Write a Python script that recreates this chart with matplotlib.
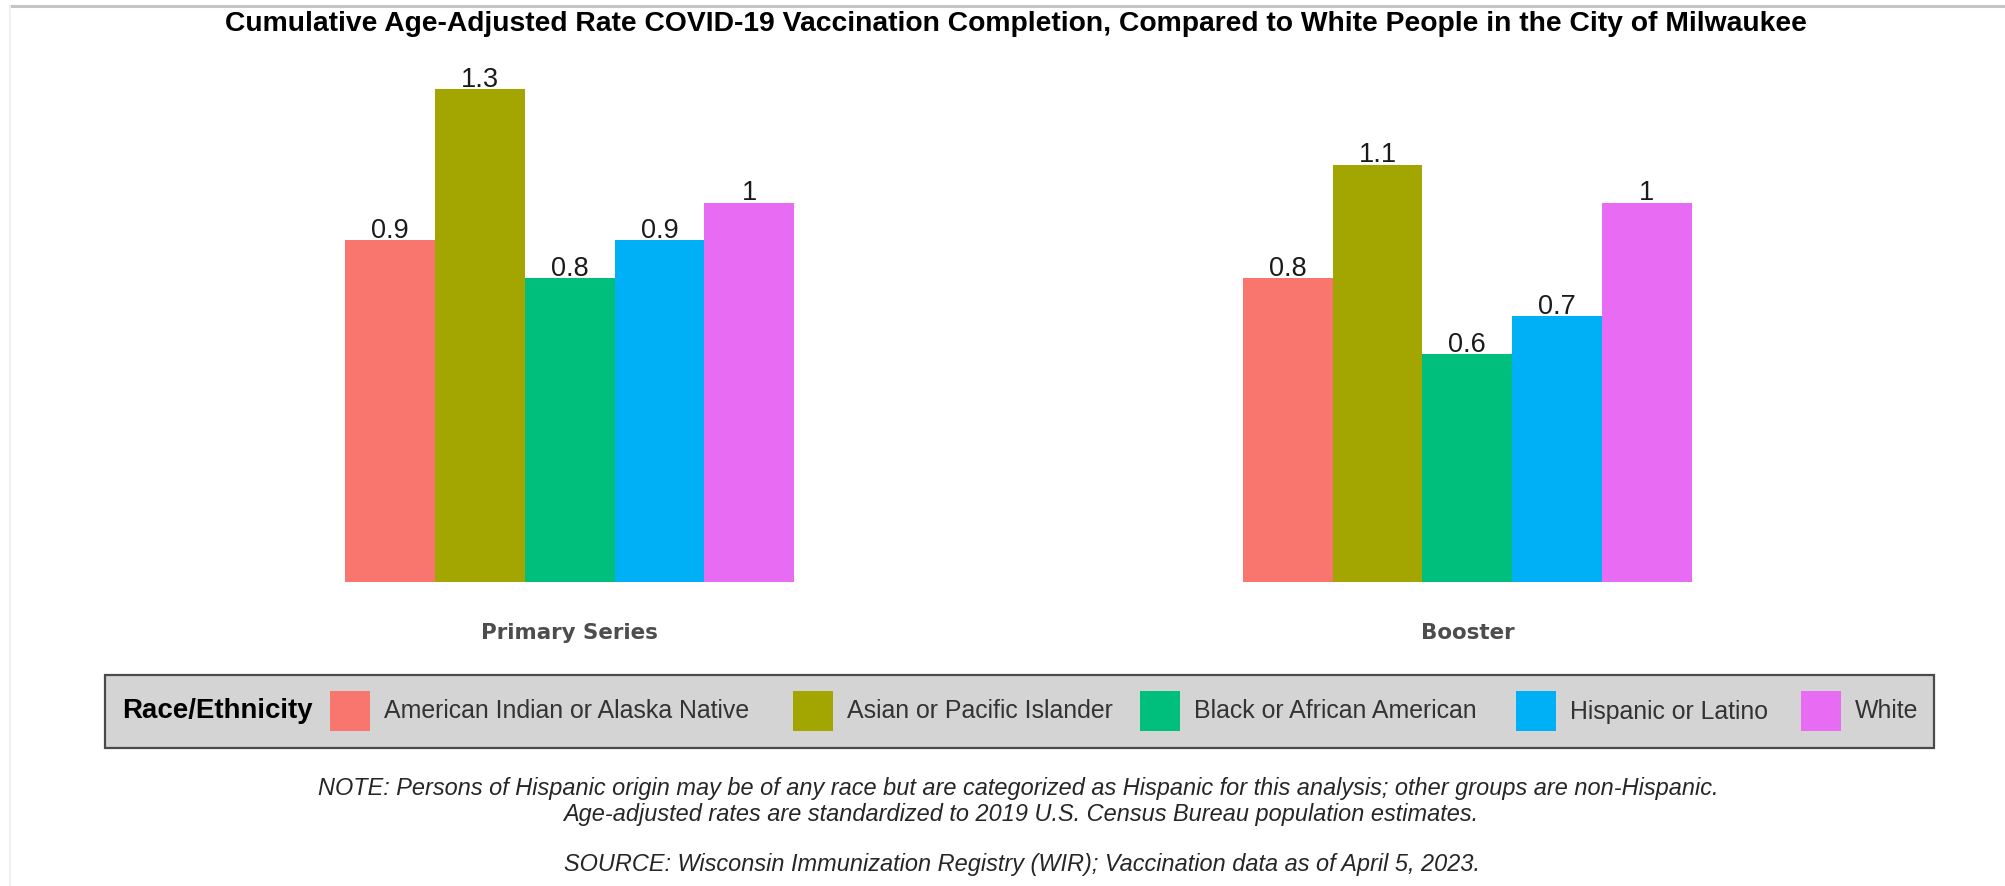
import matplotlib
matplotlib.use("Agg")
import matplotlib.pyplot as plt
from matplotlib.patches import Rectangle
from matplotlib.lines import Line2D

# data
groups = ["Primary Series", "Booster"]
races = ["American Indian or Alaska Native", "Asian or Pacific Islander",
         "Black or African American", "Hispanic or Latino", "White"]
primary = [0.9, 1.3, 0.8, 0.9, 1.0]
booster = [0.8, 1.1, 0.6, 0.7, 1.0]
colors = ["#F8766D", "#A3A500", "#00BF7D", "#00B0F6", "#E76BF3"]

title = ("Cumulative Age-Adjusted Rate COVID-19 Vaccination Completion, "
         "Compared to White People in the City of Milwaukee")
note_lines = ["NOTE: Persons of Hispanic origin may be of any race but are categorized as "
              "Hispanic for this analysis; other groups are non-Hispanic.",
              "Age-adjusted rates are standardized to 2019 U.S. Census Bureau population estimates.",
              "SOURCE: Wisconsin Immunization Registry (WIR); Vaccination data as of April 5, 2023."]

W, H = 2006, 886
fig = plt.figure(figsize=(W / 100, H / 100), dpi=100)
fig.patch.set_facecolor("white")

# panel placement in pixels
ax = fig.add_axes([31 / W, 304 / H, 1975 / W, 522 / H])
ax.set_xlim(-0.6, 1.6)
ax.set_ylim(0, 522 / 379.5)
ax.axis("off")

bw = 0.1
values = [primary, booster]
for gi in range(len(groups)):
    for ri in range(len(races)):
        x = gi + (ri - 2) * bw
        v = values[gi][ri]
        ax.bar(x, v, width=bw, color=colors[ri], linewidth=0)
        ax.annotate("{:g}".format(v), (x, v), xytext=(0, 1.5), textcoords="offset points",
                    ha="center", va="baseline", fontsize=19.5, color="#1a1a1a",
                    family="Liberation Sans")
    ax.text(gi, -51 / 379.5, groups[gi], ha="center", va="center", fontsize=15.4,
            fontweight="bold", color="#4d4d4d", family="DejaVu Sans")

# title
fig.text(1016 / W, 1 - 24 / H, title, ha="center", va="center", fontsize=20.3,
         fontweight="bold", family="Liberation Sans", color="black")

# screenshot border lines
fig.add_artist(Line2D([10 / W, 1], [1 - 6 / H, 1 - 6 / H], color="#c4c4c4", lw=2.2))
fig.add_artist(Line2D([10 / W, 10 / W], [0, 1 - 6 / H], color="#f0f0f0", lw=1.5))

# legend, laid out by hand
ly = 1 - 711.5 / H
fig.text(122 / W, ly, "Race/Ethnicity", ha="left", va="center", fontsize=19.9,
         fontweight="bold", family="Liberation Sans", color="black", zorder=3)
key_x = [330, 793, 1140, 1516, 1801]
for ri, name in enumerate(races):
    fig.add_artist(Rectangle((key_x[ri] / W, 1 - 731 / H), 40 / W, 40 / H,
                             transform=fig.transFigure,
                             facecolor=colors[ri], edgecolor="none", zorder=3))
    fig.text((key_x[ri] + 54) / W, ly, name, ha="left", va="center", fontsize=17.9,
             family="Liberation Sans", color="#333333", zorder=3)
fig.add_artist(Rectangle((105 / W, 1 - 748 / H), 1829 / W, 73 / H, transform=fig.transFigure,
                         facecolor="#d4d4d4", edgecolor="#4a4a4a", lw=1.6, zorder=2))

# notes
for line, yy, xx in zip(note_lines, [789, 814, 864], [1018, 1021, 1022]):
    fig.text(xx / W, 1 - yy / H, line, ha="center", va="center", fontsize=16.9,
             style="italic", family="Liberation Sans", color="#262626")

fig.savefig("out.png", dpi=100)
